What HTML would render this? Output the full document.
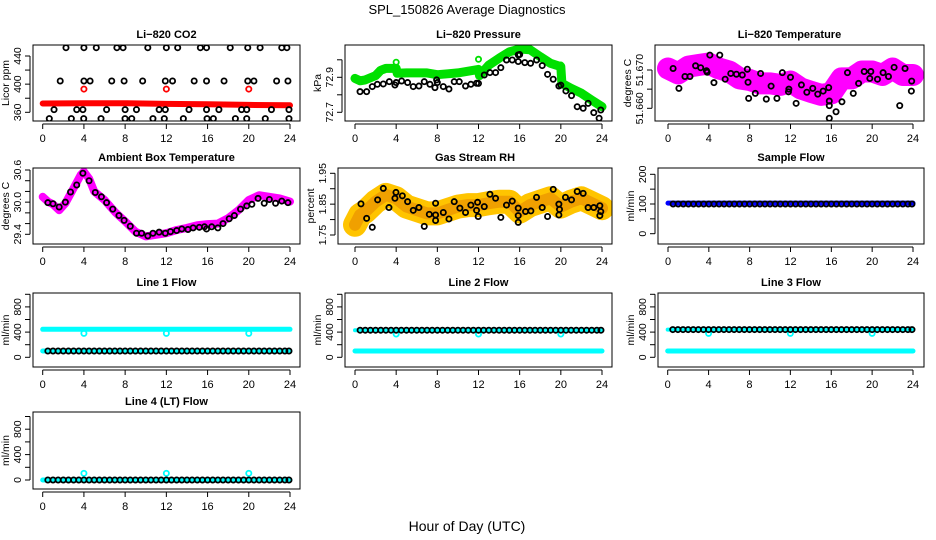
<!DOCTYPE html>
<html><head><meta charset="utf-8"><style>
body{margin:0;background:#fff;}
svg{display:block;font-family:"Liberation Sans",sans-serif;}
</style></head><body>
<svg id="c" width="936" height="540" viewBox="0 0 936 540" xmlns="http://www.w3.org/2000/svg">
<text x="467" y="14" font-size="13" text-anchor="middle">SPL_150826  Average Diagnostics</text>
<text x="467" y="531" font-size="14" text-anchor="middle">Hour of Day (UTC)</text>
</svg>
<script>
// ---- data ----
const xTicks=[0,4,8,12,16,20,24];
const co2RedH=[0,4,8,12,16,20,24];
const co2RedV=[372.5,373,373,372,371.5,370.5,370];
const co2OutH=[4,12,20];
const co2OutV=[393,393,393];
const co2BlkH=[2.26,4.0,5.2,7.2,7.8,10.2,12.0,13.1,15.3,15.9,18.2,19.9,21.1,23.2,23.7,
1.7,4.0,4.6,6.7,7.9,9.7,11.9,12.6,14.7,15.9,17.6,19.9,20.5,22.7,23.8,
1.1,3.3,3.9,6.2,8.0,9.1,11.3,11.9,14.2,15.9,17.1,19.3,19.8,22.2,23.9,
0.64,2.78,3.98,5.66,7.99,8.64,10.7,11.8,13.65,15.95,16.56,18.7,19.8,21.6,23.9];
const co2BlkV=[451.8,451.8,451.8,451.8,451.8,451.8,451.8,451.8,451.8,451.8,451.8,451.8,451.8,451.8,451.8,
404.5,404.5,404.5,404.5,404.5,404.5,404.5,404.5,404.5,404.5,404.5,404.5,404.5,404.5,404.5,
363.8,363.8,363.8,363.8,363.8,363.8,363.8,363.8,363.8,363.8,363.8,363.8,363.8,363.8,363.8,
351,351,351,351,351,351,351,351,351,351,351,351,351,351,351];

const presGrnH=[0,0.5,1,2,2.5,3,4,4.1,5,6,7,8,9,10,11,12,12.1,13,14,15,16,17,18,19,20,20.1,21,22,23,24];
const presGrnV=[72.894,72.88,72.885,72.91,72.94,72.951,72.951,72.923,72.925,72.925,72.925,72.915,72.92,72.925,72.935,72.945,72.91,72.97,73.009,73.046,73.062,73.058,73.018,72.98,72.961,72.866,72.837,72.809,72.77,72.732];
const presOutH=[4,12,20];
const presOutV=[72.986,73.003,72.970];
const presBlkH=[0.49,1.13,1.68,2.17,2.75,3.33,3.88,4.53,5.11,5.66,6.21,6.73,7.28,7.77,7.93,8.58,9.13,9.64,10.13,10.74,11.26,11.81,12.56,13.11,13.66,14.17,14.72,15.28,15.86,15.86,16.5,17.06,17.64,18.19,18.71,19.26,19.81,20.49,21.04,21.59,22.17,22.65,23.2,23.72,23.88,4,8,12,16,20];
const presBlkV=[72.818,72.818,72.847,72.86,72.862,72.875,72.856,72.879,72.87,72.847,72.85,72.875,72.86,72.841,72.885,72.847,72.833,72.875,72.875,72.85,72.86,72.866,72.913,72.927,72.927,72.955,72.999,72.999,72.99,73.028,72.984,72.98,72.999,72.967,72.917,72.889,72.85,72.822,72.795,72.732,72.723,72.751,72.698,72.666,72.713,72.87,72.87,72.865,73.03,72.855];

const tempMagH=[0,1,2,3,4,5,6,7,8,9,10,11,12,13,14,15,16,17,18,19,20,21,22,23,24];
const tempMagV=[51.6704,51.6691,51.6709,51.6713,51.6717,51.6704,51.6696,51.6678,51.6674,51.6665,51.6665,51.6661,51.6670,51.6652,51.6643,51.6635,51.6639,51.6678,51.6678,51.6696,51.6696,51.6687,51.6704,51.6687,51.6687];
const tempBlkH=[0.5,1.07,1.66,2.15,2.7,3.2,3.77,3.84,4.1,4.5,5.07,5.6,6.15,6.7,7.28,7.77,7.84,7.9,8.55,9.07,9.63,10.1,10.67,11.2,11.8,11.84,12.0,12.55,13.07,13.6,14.18,14.67,15.2,15.74,15.8,15.8,15.8,16.46,17.04,17.58,18.15,18.67,19.22,19.77,19.87,20.52,21.07,21.6,22.15,22.7,23.22,23.87,23.84];
const tempBlkV=[51.6704,51.6652,51.6683,51.6683,51.6711,51.6706,51.6698,51.6694,51.6739,51.6667,51.6739,51.6676,51.6691,51.6689,51.6687,51.6702,51.6668,51.6626,51.6639,51.6691,51.6624,51.6658,51.6626,51.6693,51.6643,51.665,51.6681,51.6613,51.6661,51.6642,51.6652,51.6637,51.6645,51.6654,51.6619,51.6607,51.6574,51.6591,51.6617,51.6693,51.6639,51.6665,51.6696,51.6678,51.6696,51.6676,51.6693,51.6683,51.6707,51.6607,51.6704,51.6671,51.6645];

const ambMagH=[0,0.5,1,1.6,2.2,3,3.7,4,4.5,5,6,7,8,9,10,11,12,13,14,15,16,17,18,19,20,21,22,23,24];
const ambMagV=[30.10,30.01,29.96,29.85,29.98,30.26,30.51,30.57,30.44,30.20,30.04,29.82,29.64,29.45,29.36,29.39,29.42,29.48,29.52,29.57,29.59,29.60,29.70,29.85,30.04,30.13,30.10,30.07,30.01];
const ambBlkH=[0.5,1,1.6,2.2,2.7,3.3,3.9,4.5,5.1,5.7,6.2,6.8,7.4,7.9,8.5,9.1,9.6,10.2,10.7,11.3,11.9,12.4,13,13.5,14.1,14.6,15.2,15.7,15.9,16.4,17,17.5,18.1,18.6,19.2,19.8,20.3,20.9,21.5,22.0,22.6,23.2,23.8];
const ambBlkV=[29.99,29.97,29.91,30.0,30.19,30.32,30.54,30.40,30.18,30.10,29.99,29.87,29.75,29.66,29.55,29.42,29.42,29.37,29.42,29.44,29.42,29.45,29.47,29.50,29.49,29.52,29.53,29.54,29.50,29.54,29.52,29.60,29.69,29.75,29.87,29.93,29.96,30.07,29.98,30.05,29.98,30.02,29.99];

const rhOrH=[0,0.5,1,2,3,4,5,6,7,8,9,10,11,12,13,14,15,16,17,18,19,20,21,22,23,24];
const rhOrV=[1.783,1.815,1.826,1.858,1.88,1.869,1.842,1.831,1.82,1.82,1.831,1.842,1.847,1.847,1.853,1.858,1.858,1.826,1.847,1.858,1.869,1.842,1.858,1.869,1.853,1.837];
const rhBlkH=[0.58,1.13,1.68,2.2,2.75,3.3,3.88,3.98,4.6,5.11,5.66,6.21,6.73,7.22,7.83,7.83,7.83,8.58,9.13,9.64,10.19,10.74,11.26,11.81,11.91,11.97,12.56,13.11,13.66,14.17,14.72,15.28,15.86,15.86,15.86,16.57,17.09,17.64,18.19,18.71,19.26,19.81,19.81,19.87,20.45,21.04,21.59,22.17,22.65,23.2,23.79,23.79,23.88];
const rhBlkV=[1.851,1.804,1.775,1.864,1.901,1.839,1.869,1.888,1.877,1.858,1.83,1.839,1.778,1.817,1.853,1.815,1.797,1.823,1.802,1.858,1.837,1.823,1.847,1.83,1.856,1.81,1.842,1.882,1.869,1.807,1.847,1.86,1.837,1.813,1.791,1.826,1.828,1.872,1.839,1.81,1.898,1.85,1.815,1.833,1.872,1.864,1.891,1.885,1.839,1.839,1.845,1.813,1.826];

const flowH=[0,24];
const sampleBlue=[103,103];
const sampleBlk=[100,100];
const line1Cyan=[444,444];
const line1Blk=[100,100];
const line2Blk=[430,430];
const line2Cyan=[100,100];
const line3Blk=[440,440];
const line3Cyan=[100,100];
const line4Blk=[0,0];
const line4Cyan=[0,0];
const dipH=[4,12,20];
const line1Dip=[380,380,380];
const line2Dip=[370,370,370];
const line3Dip=[380,380,380];
const line4Dip=[105,105,105];
const circleH=[0.5,1,1.5,2,2.5,3,3.5,4,4.5,5,5.5,6,6.5,7,7.5,8,8.5,9,9.5,10,10.5,11,11.5,12,12.5,13,13.5,14,14.5,15,15.5,16,16.5,17,17.5,18,18.5,19,19.5,20,20.5,21,21.5,22,22.5,23,23.5,23.9];

// ---- drawing ----
const svg=document.getElementById('c');
const NS='http://www.w3.org/2000/svg';
let clipN=0;
function mk(tag,attrs,parent){const e=document.createElementNS(NS,tag);for(const k in attrs)e.setAttribute(k,attrs[k]);(parent||svg).appendChild(e);return e;}

function panel(o){
  const g=mk('g',{});
  
  
  const sx=h=>o.x0+(o.x24-o.x0)*h/24;
  const sy=v=>o.yp1+(o.yp2-o.yp1)*(v-o.yv1)/(o.yv2-o.yv1);
  const id='cp'+(clipN++);
  const cp=mk('clipPath',{id:id},g);
  mk('rect',{x:o.bx1,y:o.by1,width:o.bx2-o.bx1,height:o.by2-o.by1},cp);
  const plot=mk('g',{'clip-path':'url(#'+id+')'},g);
  
  
  o.draw(plot,sx,sy);
  const box=mk('rect',{x:o.bx1,y:o.by1,width:o.bx2-o.bx1,height:o.by2-o.by1,fill:'none',stroke:'#000','stroke-width':1},g);
  
  
  const t=mk('text',{x:(o.bx1+o.bx2)/2,y:o.by1-7,'font-size':11,'font-weight':'bold','text-anchor':'middle'},g);
  t.textContent=o.title;
  
  
  const xa=mk('g',{},g);
  
  
  mk('line',{x1:sx(0),x2:sx(24),y1:o.by2+3,y2:o.by2+3,stroke:'#000'},xa);
  xTicks.forEach(h=>{
    mk('line',{x1:sx(h),x2:sx(h),y1:o.by2+3,y2:o.by2+8,stroke:'#000'},xa);
    const l=mk('text',{x:sx(h),y:o.by2+21,'font-size':11,'text-anchor':'middle'},xa);
    l.textContent=h;
    
    
  });
  const ya=mk('g',{},g);
  
  
  const ax=o.bx1-3;
  mk('line',{x1:ax,x2:ax,y1:sy(o.ticks[0]),y2:sy(o.ticks[o.ticks.length-1]),stroke:'#000'},ya);
  o.ticks.forEach(v=>mk('line',{x1:ax-5,x2:ax,y1:sy(v),y2:sy(v),stroke:'#000'},ya));
  o.labels.forEach(v=>{
    const y=sy(v);const x=ax-9;
    const l=mk('text',{x:x,y:y,'font-size':10.5,'text-anchor':'middle',transform:'rotate(-90 '+x+' '+y+')'},ya);
    l.textContent=v.toFixed(o.dec||0);
    
    
  });
  const yx=o.bx1-24,yy=(o.by1+o.by2)/2;
  const yl=mk('text',{x:yx,y:yy,'font-size':10.5,'text-anchor':'middle',transform:'rotate(-90 '+yx+' '+yy+')'},ya);
  yl.textContent=o.ylabel;
  
  
}
function band(p,sx,sy,H,V,color,w,name){
  const pts=H.map((h,i)=>sx(h).toFixed(1)+','+sy(V[i]).toFixed(1)).join(' ');
  const e=mk('polyline',{points:pts,fill:'none',stroke:color,'stroke-width':w,'stroke-linejoin':'round','stroke-linecap':'round'},p);
  
  
}
function pts(p,sx,sy,H,V,color,name,r,sw){
  H.forEach((h,i)=>{
    const e=mk('circle',{cx:sx(h),cy:sy(V[i]),r:r||2.6,fill:'none',stroke:color,'stroke-width':sw||1.8},p);
    
    
  });
}
function flat(val){return circleH.map(()=>val);}

const R1={by1:45,by2:121},R2={by1:168,by2:244},R3={by1:293,by2:367},R4={by1:412,by2:489};
const C1={bx1:33,bx2:300,x0:42.7,x24:290},C2={bx1:345,bx2:612,x0:355,x24:602},C3={bx1:655,bx2:924,x0:668,x24:913};
function P(r,c,o){return Object.assign({},r,c,o);}
const flowTicks=[0,200,400,600,800,1000],flowLabels=[0,400,800];

panel(P(R1,C1,{name:'co2-panel',title:'Li−820 CO2',ylabel:'Licor ppm',yv1:440,yp1:56,yv2:360,yp2:112.3,ticks:[360,380,400,420,440],labels:[360,400,440],
 draw:(p,sx,sy)=>{band(p,sx,sy,co2RedH,co2RedV,'#ff0000',6,'co2-red-series');pts(p,sx,sy,co2OutH,co2OutV,'#ff0000','co2-red-outlier');pts(p,sx,sy,co2BlkH,co2BlkV,'#000','co2-black-point');}}));
panel(P(R1,C2,{name:'pressure-panel',title:'Li−820 Pressure',ylabel:'kPa',yv1:72.9,yp1:77.3,yv2:72.7,yp2:112.3,ticks:[72.7,72.8,72.9,73.0],labels:[72.7,72.9],dec:1,
 draw:(p,sx,sy)=>{band(p,sx,sy,presGrnH,presGrnV,'#00e000',9,'pressure-green-series');pts(p,sx,sy,presOutH,presOutV,'#00e000','pressure-green-outlier');pts(p,sx,sy,presBlkH,presBlkV,'#000','pressure-black-point');}}));
panel(P(R1,C3,{name:'temperature-panel',title:'Li−820 Temperature',ylabel:'degrees C',yv1:51.670,yp1:70,yv2:51.660,yp2:108.3,ticks:[51.660,51.665,51.670],labels:[51.660,51.670],dec:3,
 draw:(p,sx,sy)=>{band(p,sx,sy,tempMagH,tempMagV,'#ff00ff',22,'temperature-magenta-series');pts(p,sx,sy,tempBlkH,tempBlkV,'#000','temperature-black-point');}}));
panel(P(R2,C1,{name:'ambient-panel',title:'Ambient Box Temperature',ylabel:'degrees C',yv1:30.6,yp1:170,yv2:29.4,yp2:234.3,ticks:[29.4,29.6,29.8,30.0,30.2,30.4,30.6],labels:[29.4,30.0,30.6],dec:1,
 draw:(p,sx,sy)=>{band(p,sx,sy,ambMagH,ambMagV,'#ff00ff',8,'ambient-magenta-series');pts(p,sx,sy,ambBlkH,ambBlkV,'#000','ambient-black-point');}}));
panel(P(R2,C2,{bx1:338,name:'rh-panel',title:'Gas Stream RH',ylabel:'percent',yv1:1.95,yp1:173.3,yv2:1.75,yp2:235,ticks:[1.75,1.80,1.85,1.90,1.95],labels:[1.75,1.85,1.95],dec:2,
 draw:(p,sx,sy)=>{band(p,sx,sy,rhOrH,rhOrV,'#ffc400',24,'rh-yellow-series');band(p,sx,sy,rhOrH,rhOrV,'#f0a000',12,'rh-orange-core');pts(p,sx,sy,rhBlkH,rhBlkV,'#000','rh-black-point');}}));
panel(P(R2,C3,{bx1:658,name:'sample-flow-panel',title:'Sample Flow',ylabel:'ml/min',yv1:200,yp1:174.3,yv2:0,yp2:233.7,ticks:[0,50,100,150,200],labels:[0,100,200],
 draw:(p,sx,sy)=>{band(p,sx,sy,flowH,sampleBlue,'#0000ff',5,'sample-blue-series');pts(p,sx,sy,circleH,flat(sampleBlk[0]),'#000','sample-black-point');}}));
panel(P(R3,C1,{name:'line1-panel',title:'Line 1 Flow',ylabel:'ml/min',yv1:0,yp1:357.3,yv2:1000,yp2:294.3,ticks:flowTicks,labels:flowLabels,
 draw:(p,sx,sy)=>{band(p,sx,sy,flowH,line1Cyan,'#00ffff',5,'line1-cyan-series');pts(p,sx,sy,dipH,line1Dip,'#00ffff','line1-cyan-dip');band(p,sx,sy,flowH,line1Blk,'#00ffff',5,'line1-cyan-low');pts(p,sx,sy,circleH,flat(line1Blk[0]),'#000','line1-black-point');}}));
panel(P(R3,C2,{name:'line2-panel',title:'Line 2 Flow',ylabel:'ml/min',yv1:0,yp1:357.3,yv2:1000,yp2:294.3,ticks:flowTicks,labels:flowLabels,
 draw:(p,sx,sy)=>{band(p,sx,sy,flowH,line2Cyan,'#00ffff',5,'line2-cyan-series');band(p,sx,sy,flowH,line2Blk,'#00ffff',4,'line2-cyan-high');pts(p,sx,sy,dipH,line2Dip,'#00ffff','line2-cyan-dip');pts(p,sx,sy,circleH,flat(line2Blk[0]),'#000','line2-black-point');}}));
panel(P(R3,C3,{bx1:658,x0:667.7,name:'line3-panel',title:'Line 3 Flow',ylabel:'ml/min',yv1:0,yp1:357.3,yv2:1000,yp2:294.3,ticks:flowTicks,labels:flowLabels,
 draw:(p,sx,sy)=>{band(p,sx,sy,flowH,line3Cyan,'#00ffff',5,'line3-cyan-series');band(p,sx,sy,flowH,line3Blk,'#00ffff',4,'line3-cyan-high');pts(p,sx,sy,dipH,line3Dip,'#00ffff','line3-cyan-dip');pts(p,sx,sy,circleH,flat(line3Blk[0]),'#000','line3-black-point');}}));
panel(P(R4,C1,{name:'line4-panel',title:'Line 4 (LT) Flow',ylabel:'ml/min',yv1:0,yp1:480,yv2:1000,yp2:416.5,ticks:flowTicks,labels:flowLabels,
 draw:(p,sx,sy)=>{band(p,sx,sy,flowH,line4Cyan,'#00ffff',5,'line4-cyan-series');pts(p,sx,sy,dipH,line4Dip,'#00ffff','line4-cyan-outlier');pts(p,sx,sy,circleH,flat(line4Blk[0]),'#000','line4-black-point');}}));
</script>
</body></html>
